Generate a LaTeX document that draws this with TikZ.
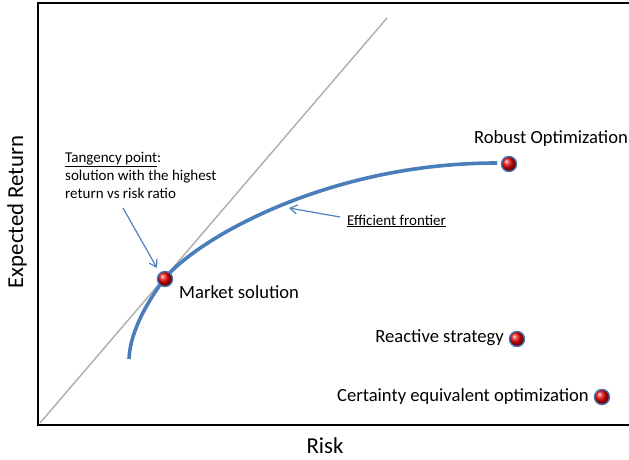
\documentclass[tikz,border=0pt]{standalone}
\usepackage{fontspec}
\setmainfont{Carlito}
\usetikzlibrary{arrows.meta}
\definecolor{offblue}{HTML}{4A7EBB}
\definecolor{arrblue}{HTML}{4F81BD}
\definecolor{ringblue}{HTML}{4672B0}
\tikzset{
  frame/.style={line width=1.6pt, black},
  tangline/.style={line width=1.4pt, gray!65},
  frontier/.style={line width=3.6pt, offblue},
  ballpt/.style={circle, minimum size=15pt, inner sep=0pt, shading=ball, ball color=red!90!black, draw=ringblue, line width=1.4pt},
  lbl/.style={font=\fontsize{18.6}{22}\selectfont, inner sep=0pt},
  small/.style={font=\fontsize{15}{18}\selectfont, inner sep=0pt},
  axlbl/.style={font=\fontsize{22.8}{27}\selectfont, inner sep=0pt},
  callout/.style={arrblue, line width=1.2pt, -{Straight Barb[length=7pt,width=9pt]}}
}
\begin{document}
\begin{tikzpicture}[x=1pt,y=-1pt]
\useasboundingbox (0,0) rectangle (629,460);
% frame
\draw[frame] (630,3) -- (38,3) -- (38,425) -- (630,425);
% tangent line
\coordinate (t0) at (40,423);
\coordinate (t1) at (387,18);
\draw[tangline] (t0) -- (t1);
% efficient frontier
\coordinate (f0) at (129,359);
\coordinate (fm) at (165,278);
\coordinate (f1) at (497,163);
\draw[frontier] (f0) .. controls (130,330) and (150,298) .. (fm)
  .. controls (200,237) and (330,163) .. (f1);
% points
\node[ballpt] (market) at (165,279) {};
\node[ballpt] (robust) at (509,164) {};
\node[ballpt] (reactive) at (517,339) {};
\node[ballpt] (certainty) at (602,397) {};
% labels
\node[lbl, anchor=west] (marketlbl) at (179,292) {Market solution};
\node[lbl] (robustlbl) at (551,139) {Robust Optimization};
\node[lbl, anchor=east] (reactivelbl) at (504,338) {Reactive strategy};
\node[lbl, anchor=east] (certaintylbl) at (589,397) {Certainty equivalent optimization};
% axis labels
\node[axlbl] (risk) at (325,446) {Risk};
\node[axlbl, rotate=90] (ret) at (17,212) {Expected Return};
% annotations
\node[small, anchor=west, align=left] (tang) at (65,175) {\underline{Tangency point}:\\solution with the highest\\return vs risk ratio};
\node[small, anchor=west] (eff) at (347,221) {\underline{Efficient frontier}};
\coordinate (ta) at (123,208);
\coordinate (tb) at (157,268);
\draw[callout] (ta) -- (tb);
\coordinate (ea) at (340,217);
\coordinate (eb) at (289,208);
\draw[callout] (ea) -- (eb);
\end{tikzpicture}
\end{document}
